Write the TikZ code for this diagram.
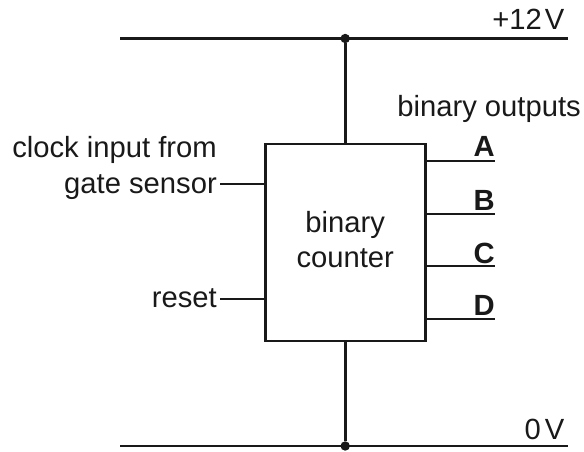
\documentclass[tikz,border=0pt]{standalone}
\usepackage{fontspec}
\setmainfont{Liberation Sans}
\begin{document}
\begin{tikzpicture}[x=1pt,y=-1pt,
  wire/.style={line width=2.8pt,color=black!90},
  lab/.style={inner sep=0pt,font=\fontsize{29.2}{33}\selectfont,text=black!90},
  blab/.style={inner sep=0pt,font=\fontsize{29.2}{33}\selectfont\bfseries,text=black!90},
  dotn/.style={circle,fill=black!90,inner sep=0pt,minimum size=9.4pt}]
\useasboundingbox (0,0) rectangle (584,452);
\node[draw=black!90,line width=2.8pt,minimum width=160pt,minimum height=197pt,inner sep=0pt] (ctr) at (345.2,242.5) {};
\node[lab,align=center] (ctrlab) at (345.2,239.7) {binary\\[2pt]counter};
\coordinate (t1) at (120,38.5); \coordinate (t2) at (568.3,38.5);
\coordinate (b1) at (120,446); \coordinate (b2) at (568.3,446);
\draw[wire] (t1) -- (t2);
\draw[wire] (b1) -- (b2);
\node[dotn] (dt) at (345.2,38.5) {};
\node[dotn] (db) at (345.2,446) {};
\draw[wire] (dt) -- (ctr.north);
\draw[wire] (ctr.south) -- (db);
\node[lab,anchor=base east] (v12) at (564.5,30) {+12\kern3pt V};
\node[lab,anchor=base east] (v0) at (564.5,439) {0\kern4pt V};
\node[lab,anchor=base east] (bo) at (581,116) {binary outputs};
\node[lab,anchor=base east] (cl1) at (217,157.7) {clock input from};
\node[lab,anchor=base east] (cl2) at (217,193.7) {gate sensor};
\node[lab,anchor=base east] (rs) at (217,307) {reset};
\coordinate (cw) at (220,184); \coordinate (rw) at (220,299);
\draw[wire] (cw) -- (cw -| ctr.west);
\draw[wire] (rw) -- (rw -| ctr.west);
\foreach \y/\b/\t [count=\i] in {161/156.7/A,214/210.7/B,266/263/C,319/315.3/D}{
  \coordinate (o\i) at (495,\y);
  \draw[wire] (o\i -| ctr.east) -- (o\i);
  \node[blab,anchor=base east] (l\i) at (495,\b) {\t};
}
\end{tikzpicture}
\end{document}
